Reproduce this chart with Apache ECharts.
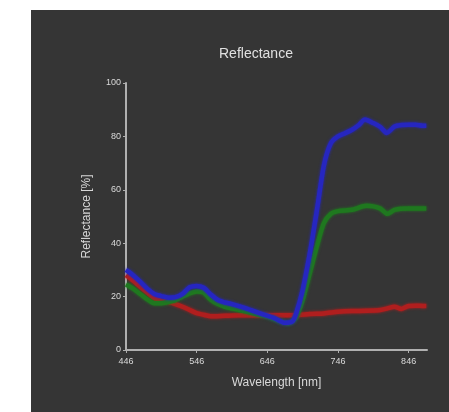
<!DOCTYPE html>
<html><head><meta charset="utf-8">
<script src="https://cdn.jsdelivr.net/npm/echarts@6/dist/echarts.min.js"></script>
<style>
html,body{margin:0;padding:0;background:#fff;width:449px;height:412px;overflow:hidden}
#c{position:absolute;left:31px;top:10px;width:418px;height:402px;background:#353535}
</style></head><body>
<div id="c"></div>
<script>
const xTickLabels = [446, 546, 646, 746, 846];
const wlBlue  = [446,456,466,476,486,496,506,516,526,536,546,556,566,576,586,596,616,636,656,671,681,686,696,706,716,726,736,746,756,766,776,784,796,806,815,826,836,846,856,866,871];
const blue    = [30,28,25.6,23,21,20.2,19.6,19.8,21,23.5,24,23.3,20.8,18.7,17.8,17.2,15.6,13.7,11.9,10.2,10.6,13,22.5,36,52,69,77.5,80,81.2,82.5,84.4,86.3,85,83.5,81.3,83.7,84.3,84.4,84.4,84,84];
const wlGreen = [446,456,466,476,486,496,506,516,526,536,546,556,566,576,586,606,626,646,666,676,686,696,706,716,726,736,746,766,786,796,806,816,826,846,866,871];
const green   = [24.5,23,21,19,17.5,17.5,18,18.7,20,21.2,21.9,21.5,18.8,17.2,16.2,15,13.7,12.5,10.6,10,12,18.7,28.7,38.7,47.5,51,52,52.5,54,53.8,53,51,52.5,53,53,53];
const wlRed   = [446,456,466,476,486,496,506,516,526,536,546,556,566,586,606,626,646,666,686,706,726,746,766,786,806,816,826,836,846,856,866,871];
const red     = [28,26,23.7,21.5,19.4,18.6,18,17.2,16.2,15,13.8,13.2,12.6,12.8,13,13,13,13,13,13.5,13.7,14.3,14.6,14.7,15,15.6,16.2,15.4,16.5,16.6,16.5,16.5];

function pairs(xs, ys){ return xs.map((x,i)=>[x, ys[i]]); }

const chart = echarts.init(document.getElementById('c'), null, {renderer:'canvas'});
const font = 'Liberation Sans, Arial, sans-serif';
function mk(name, xs, ys, color){
  return {name, type:'line', data:pairs(xs,ys), showSymbol:false, smooth:0.25,
    lineStyle:{color, width:4.5, shadowColor:color, shadowBlur:3}, z:2};
}
chart.setOption({
  backgroundColor:'transparent',
  animation:false,
  title:{text:'Reflectance', left:183, top:32,
    textStyle:{color:'#e0e0e0', fontSize:14, fontWeight:'normal', fontFamily:font}},
  grid:{left:95, right:22, top:73, bottom:62},
  xAxis:{type:'value', min:446, max:872,
    name:'Wavelength [nm]', nameLocation:'middle', nameGap:27,
    nameTextStyle:{color:'#d8d8d8', fontSize:12, fontFamily:font},
    axisLine:{lineStyle:{color:'#b0b0b0', width:2}},
    axisTick:{show:true, length:3, lineStyle:{color:'#b0b0b0'}, customValues:xTickLabels},
    axisLabel:{color:'#dadada', fontSize:9, fontFamily:font, customValues:xTickLabels, margin:7},
    splitLine:{show:false}},
  yAxis:{type:'value', min:0, max:100, interval:20,
    name:'Reflectance [%]', nameLocation:'middle', nameGap:33,
    nameTextStyle:{color:'#d8d8d8', fontSize:12, fontFamily:font},
    axisLine:{show:true, lineStyle:{color:'#b0b0b0', width:2}},
    axisTick:{show:true, length:3, lineStyle:{color:'#b0b0b0'}},
    axisLabel:{color:'#dadada', fontSize:9, fontFamily:font, margin:5},
    splitLine:{show:false}},
  series:[
    mk('red', wlRed, red, '#b01e1e'),
    mk('green', wlGreen, green, '#1f781f'),
    mk('blue', wlBlue, blue, '#2626c0')
  ]
});
</script></body></html>
